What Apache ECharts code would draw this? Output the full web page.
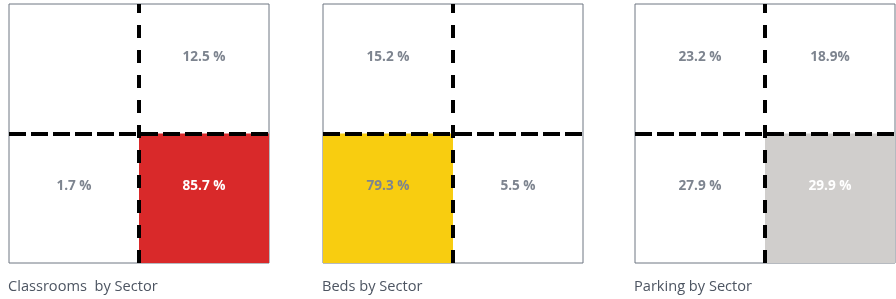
<!DOCTYPE html>
<html>
<head>
<meta charset="utf-8">
<script src="https://cdn.jsdelivr.net/npm/echarts@6/dist/echarts.min.js"></script>
<style>
html,body{margin:0;padding:0;background:#fff;}
#chart{width:896px;height:299px;}
</style>
</head>
<body>
<div id="chart"></div>
<script>
// Panel titles
const panelTitles = ['Classrooms  by Sector', 'Beds by Sector', 'Parking by Sector'];
// Cell order: top-left, top-right, bottom-left, bottom-right
const cellCols = [0, 1, 0, 1];
const cellRows = [1, 1, 0, 0];
// Values (null = empty cell)
const classroomsValues = [null, 12.5, 1.7, 85.7];
const bedsValues = [15.2, null, 79.3, 5.5];
const parkingValues = [23.2, 18.9, 27.9, 29.9];
// Label texts as printed
const classroomsLabels = ['', '12.5 %', '1.7 %', '85.7 %'];
const bedsLabels = ['15.2 %', '', '79.3 %', '5.5 %'];
const parkingLabels = ['23.2 %', '18.9%', '27.9 %', '29.9 %'];
// Highlighted cell per panel
const highlightIndex = [3, 2, 3];
const highlightColors = ['#d9292a', '#f8cd10', '#d0cecc'];
const highlightTextColors = ['#ffffff', '#7d848f', '#ffffff'];

const panelValues = [classroomsValues, bedsValues, parkingValues];
const panelLabels = [classroomsLabels, bedsLabels, parkingLabels];
const gridLefts = [9, 323, 635];

const chart = echarts.init(document.getElementById('chart'), null, {renderer: 'canvas'});

const grids = [], xAxes = [], yAxes = [], series = [], titles = [];
panelValues.forEach((vals, p) => {
  grids.push({left: gridLefts[p], top: 4, width: 260, height: 259, show: true,
    borderColor: '#6f7682', borderWidth: 1, backgroundColor: 'transparent'});
  const axisCommon = {type: 'value', min: 0, max: 2, gridIndex: p,
    axisLabel: {show: false}, axisTick: {show: false}, axisLine: {show: false}, splitLine: {show: false}};
  xAxes.push(Object.assign({}, axisCommon));
  yAxes.push(Object.assign({}, axisCommon));
  const data = vals.map((v, i) => [cellCols[i], cellRows[i], v, panelLabels[p][i], i === highlightIndex[p] ? 1 : 0]);
  series.push({
    type: 'custom', xAxisIndex: p, yAxisIndex: p, data: data, silent: true,
    renderItem: function (params, api) {
      const c = api.value(0), r = api.value(1), hl = api.value(4);
      const tl = api.coord([c, r + 1]);
      const br = api.coord([c + 1, r]);
      const lp = api.coord([c + 0.5, r + 0.59]);
      const label = panelLabels[p][params.dataIndex];
      return {
        type: 'group',
        children: [
          {type: 'rect', shape: {x: tl[0], y: tl[1], width: br[0] - tl[0], height: br[1] - tl[1]},
            style: {fill: hl ? highlightColors[p] : 'rgba(0,0,0,0)'}},
          {type: 'text', x: lp[0], y: lp[1], z2: 10,
            style: {text: label, fill: hl ? highlightTextColors[p] : '#7d848f',
              font: 'bold 13.6px "Open Sans", sans-serif', align: 'center', verticalAlign: 'middle'}}
        ]
      };
    },
    markLine: {
      silent: true, symbol: 'none', z: 20,
      label: {show: false},
      lineStyle: {color: '#000', width: 4},
      data: [
        {xAxis: 1, lineStyle: {type: [13, 12], color: '#000', width: 4}},
        {yAxis: 1, lineStyle: {type: [17, 5], color: '#000', width: 4}}
      ]
    }
  });
  titles.push({text: panelTitles[p], left: gridLefts[p] - 1, top: 279, padding: 0,
    textStyle: {fontFamily: '"Open Sans", sans-serif', fontSize: 14.6, fontWeight: 'normal', color: '#4d5562'}});
});

chart.setOption({
  animation: false,
  title: titles,
  grid: grids,
  xAxis: xAxes,
  yAxis: yAxes,
  series: series
});
</script>
</body>
</html>
